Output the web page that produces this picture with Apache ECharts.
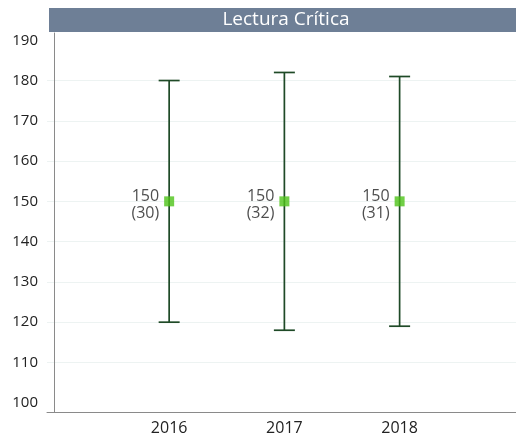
<!DOCTYPE html>
<html>
<head>
<meta charset="utf-8">
<script src="https://cdn.jsdelivr.net/npm/echarts@6/dist/echarts.min.js"></script>
<style>
  html, body { margin: 0; padding: 0; background: #fff; }
  #chart { width: 516px; height: 438px; }
</style>
</head>
<body>
<div id="chart"></div>
<script>
// datos
var years = ['2016', '2017', '2018'];
var means = [150, 150, 150];
var sds = [30, 32, 31];
var yTicks = [100, 110, 120, 130, 140, 150, 160, 170, 180, 190];
var gridTicks = [110, 120, 130, 140, 150, 160, 170, 180];

var myChart = echarts.init(document.getElementById('chart'));

// x: posiciones 1..3 en un eje de valores
var points = [];
var bars = [];
for (var i = 0; i < years.length; i++) {
    points.push([i + 1, means[i], sds[i]]);
    bars.push([i + 1, means[i] - sds[i], means[i] + sds[i]]);
}

function renderErrorBar(params, api) {
    var x = api.value(0);
    var lo = api.coord([x, api.value(1)]);
    var hi = api.coord([x, api.value(2)]);
    var half = 10.5;
    var style = {stroke: '#1f4a27', lineWidth: 1.7};
    return {
        type: 'group',
        children: [
            {type: 'line', shape: {x1: hi[0], y1: hi[1], x2: lo[0], y2: lo[1]}, style: style},
            {type: 'line', shape: {x1: hi[0] - half, y1: hi[1], x2: hi[0] + half, y2: hi[1]}, style: style},
            {type: 'line', shape: {x1: lo[0] - half, y1: lo[1], x2: lo[0] + half, y2: lo[1]}, style: style}
        ]
    };
}

myChart.setOption({
    animation: false,
    textStyle: {fontFamily: 'Open Sans'},
    grid: {left: 47, right: 0, top: 33, bottom: 26, containLabel: false, outerBoundsMode: 'none'},
    graphic: [
        {
            type: 'rect',
            shape: {x: 49, y: 8, width: 467, height: 24},
            style: {fill: '#6e7f96'}
        },
        {
            type: 'text',
            x: 286, y: 20,
            style: {
                text: 'Lectura Crítica',
                fill: '#fff',
                font: '19px "Open Sans"',
                align: 'center',
                verticalAlign: 'middle'
            }
        }
    ],
    xAxis: {
        type: 'value',
        min: -0.06,
        max: 4.01,
        axisLine: {show: true, lineStyle: {color: '#8a8a8a', width: 1}},
        axisTick: {show: false},
        splitLine: {show: false},
        axisLabel: {
            customValues: [1, 2, 3],
            color: '#222',
            fontSize: 16,
            margin: 8,
            formatter: function (v) { return years[Math.round(v) - 1] || ''; }
        }
    },
    yAxis: {
        type: 'value',
        min: 97.7,
        max: 191.8,
        axisLine: {show: true, lineStyle: {color: '#8a8a8a', width: 1}},
        axisTick: {show: false, customValues: gridTicks},
        axisLabel: {customValues: yTicks, color: '#222', fontSize: 15, margin: 9, padding: [5, 0, 0, 0]},
        splitLine: {show: true, lineStyle: {color: '#edf3f2', width: 1}}
    },
    series: [
        {
            type: 'custom',
            renderItem: renderErrorBar,
            data: bars,
            z: 2
        },
        {
            type: 'scatter',
            symbol: 'rect',
            symbolSize: 10,
            itemStyle: {color: '#4ec318'},
            data: points,
            z: 3,
            label: {
                show: true,
                position: 'left',
                distance: 5,
                offset: [0, 4],
                align: 'right',
                color: '#222',
                fontSize: 16,
                lineHeight: 17,
                formatter: function (p) {
                    return p.value[1] + '\n(' + p.value[2] + ')';
                }
            }
        }
    ]
});
</script>
</body>
</html>
